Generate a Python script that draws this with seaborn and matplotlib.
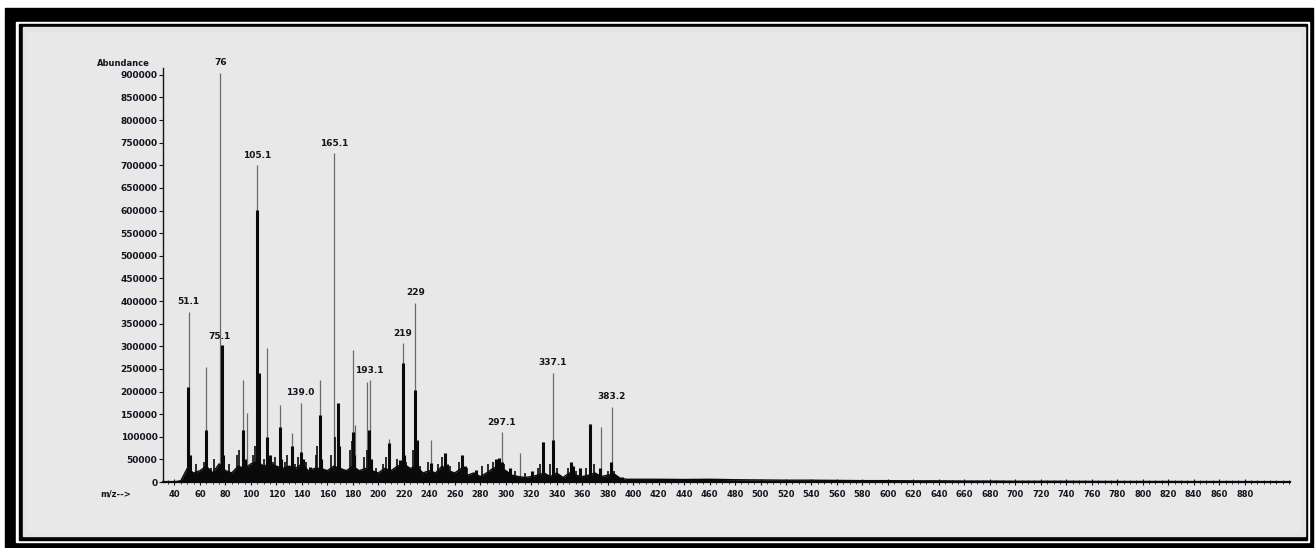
import numpy as np
import pandas as pd
import matplotlib
matplotlib.use('Agg')
import matplotlib.pyplot as plt
import seaborn as sns
from matplotlib.patches import Rectangle
from matplotlib.ticker import MultipleLocator, FixedLocator

# --- data ---
# tall thin (profile) peaks: m/z, abundance
thin_mz = [51.1, 65, 76, 94, 97, 105.1, 113, 123, 132, 139.0, 154, 165.1, 180, 182,
           191, 193.1, 208, 219, 229, 241, 297.1, 311, 329, 337.1, 366, 375, 383.2]
thin_ab = [376000, 254000, 905000, 225000, 152000, 700000, 296000, 170000, 108000,
           175000, 225000, 727000, 292000, 126000, 220000, 225000, 95000, 307000,
           396000, 93000, 110000, 64000, 88000, 241000, 128000, 122000, 166000]

# dark (dense) peaks
dark_mz = [51, 52, 65, 77, 78, 94, 95, 105, 106, 113, 115, 123, 124, 132, 139, 141,
           146, 154, 155, 168, 169, 180, 181, 193, 194, 208, 217, 219, 220, 229, 230,
           241, 252, 254, 266, 268, 277, 292, 295, 297, 303, 321, 329, 337, 351, 353,
           358, 366, 374, 383, 391]
dark_ab = [210000, 60000, 115000, 303000, 60000, 115000, 50000, 601000, 241000,
           100000, 60000, 122000, 50000, 80000, 66000, 50000, 33000, 148000, 50000,
           175000, 80000, 110000, 60000, 115000, 50000, 86000, 49000, 263000, 60000,
           203000, 93000, 42000, 64000, 40000, 60000, 35000, 27000, 50000, 53000,
           45000, 30000, 25000, 88000, 93000, 44000, 35000, 30000, 128000, 30000,
           44000, 10000]

# small spikes in the dense forest near the baseline
spike_mz = [57, 63, 69, 71, 83, 89, 91, 102, 103, 110, 117, 119, 127, 128, 135, 137,
            143, 151, 152, 163, 166, 178, 179, 189, 191, 198, 204, 206, 215, 222, 227,
            233, 239, 247, 250, 256, 263, 270, 281, 286, 290, 299, 307, 315, 325, 327,
            335, 340, 349, 355, 363, 369, 380, 385]
spike_ab = [40000, 45000, 30000, 50000, 40000, 60000, 70000, 60000, 80000, 50000,
            45000, 55000, 45000, 60000, 40000, 55000, 45000, 60000, 80000, 60000,
            100000, 70000, 90000, 55000, 70000, 30000, 40000, 55000, 50000, 45000,
            70000, 35000, 45000, 40000, 55000, 35000, 45000, 30000, 35000, 40000,
            45000, 40000, 25000, 20000, 30000, 40000, 40000, 30000, 30000, 25000,
            30000, 40000, 25000, 25000]

# baseline noise envelope
noise_mz = [40, 45, 50, 55, 60, 65, 70, 75, 80, 85, 90, 95, 100, 105, 110, 115, 120,
            125, 130, 135, 140, 145, 150, 155, 160, 165, 170, 175, 180, 185, 190, 195,
            200, 205, 210, 215, 220, 225, 230, 235, 240, 245, 250, 255, 260, 265, 270,
            275, 280, 285, 290, 295, 300, 305, 310, 315, 320, 325, 330, 335, 340, 345,
            350, 355, 360, 365, 370, 375, 380, 385, 390, 395, 400, 420, 440, 460, 480,
            500, 520, 540, 560, 580, 600, 620, 640, 660, 680, 700, 720, 740, 760, 780,
            800, 820, 840, 860, 880, 900]
noise_ab = [0, 3000, 30000, 20000, 25000, 35000, 20000, 40000, 25000, 20000, 35000,
            30000, 40000, 45000, 35000, 40000, 35000, 30000, 35000, 30000, 40000, 25000,
            30000, 30000, 25000, 35000, 30000, 25000, 35000, 25000, 30000, 25000, 20000,
            30000, 25000, 35000, 40000, 30000, 35000, 20000, 25000, 20000, 35000, 25000,
            20000, 30000, 15000, 20000, 12000, 20000, 30000, 35000, 25000, 15000, 12000,
            10000, 12000, 15000, 20000, 12000, 20000, 10000, 20000, 15000, 12000, 15000,
            20000, 12000, 15000, 18000, 8000, 6000, 6000, 6000, 5500, 6000, 5000, 4500,
            4000, 4000, 3500, 3000, 3000, 2500, 2500, 2000, 2000, 1500, 1500, 1500, 1200,
            1000, 1000, 1000, 800, 800, 800, 600]

label_txt = ['51.1', '75.1', '76', '105.1', '139.0', '165.1', '193.1', '219', '229',
             '297.1', '337.1', '383.2']
label_mz = [51.1, 75.1, 76, 105.1, 139.0, 165.1, 193.1, 219, 229, 297.1, 337.1, 383.2]
label_ab = [376000, 300000, 905000, 700000, 175000, 727000, 225000, 307000, 396000,
            110000, 241000, 166000]

x_ticks = list(range(40, 881, 20))
y_ticks = list(range(0, 900001, 50000))

noise = pd.DataFrame({'mz': noise_mz, 'ab': noise_ab})

sns.set_theme(style='white')
plt.rcParams['font.family'] = ['DejaVu Sans']

W, H = 1315, 548
fig = plt.figure(figsize=(W / 100, H / 100), dpi=100, facecolor='white')


def frame_rect(x0, y0, x1, y1, color, z):
    fig.patches.append(Rectangle((x0 / W, 1 - y1 / H), (x1 - x0) / W, (y1 - y0) / H,
                                 transform=fig.transFigure, color=color, zorder=z))


# scanned border
frame_rect(5, 8, 1313, 548, 'black', -10)
frame_rect(16, 22, 1309, 542, 'white', -9)
frame_rect(19, 24, 1307, 540, 'black', -8)
frame_rect(23, 27, 1305, 536, '#e4e4e4', -7)
frame_rect(28, 32, 1300, 531, '#e8e8e8', -6)

ax = fig.add_axes([163 / W, 1 - 482 / H, (1290 - 163) / W, (482 - 68) / H])
ax.set_facecolor('none')
ax.set_zorder(1)

ink = '#141420'
ax.vlines(thin_mz, 0, thin_ab, color='#6a6a6a', lw=0.9, zorder=2)
ax.vlines(spike_mz, 0, spike_ab, color='#0a0a0a', lw=1.2, zorder=3)
ax.vlines(dark_mz, 0, dark_ab, color='#0a0a0a', lw=2.2, zorder=3)
ax.fill_between(noise['mz'], 0, noise['ab'], color='#0a0a0a', lw=0, zorder=3)
sns.lineplot(data=noise, x='mz', y='ab', color='#0a0a0a', lw=1.0, ax=ax, zorder=3)

for t, m, a in zip(label_txt, label_mz, label_ab):
    ax.annotate(t, (m, a), xytext=(0, 4), textcoords='offset points', ha='center',
                va='bottom', fontsize=6.5, fontweight='bold', color=ink)

ax.set_xlim(31, 915.6)
ax.set_ylim(0, 915000)
ax.xaxis.set_major_locator(FixedLocator(x_ticks))
ax.xaxis.set_minor_locator(MultipleLocator(5))
ax.yaxis.set_major_locator(FixedLocator(y_ticks))
ax.set_xticklabels([str(v) for v in x_ticks])
ax.set_yticklabels([str(v) for v in y_ticks])
ax.tick_params(axis='x', which='major', direction='inout', length=4, width=0.8,
               labelsize=6, pad=4, colors=ink, bottom=True)
ax.tick_params(axis='x', which='minor', direction='inout', length=2.5, width=0.6,
               bottom=True, color=ink)
ax.tick_params(axis='y', which='major', direction='out', length=3, width=0.8,
               labelsize=6.5, pad=1, colors=ink, left=True)
for lab in ax.get_xticklabels() + ax.get_yticklabels():
    lab.set_fontweight('bold')
ax.set_xlabel('')
ax.set_ylabel('')
sns.despine(ax=ax)
ax.spines['left'].set_color(ink)
ax.spines['left'].set_linewidth(1.0)
ax.spines['bottom'].set_color('#0a0a0a')
ax.spines['bottom'].set_linewidth(1.6)

fig.text(150 / W, 1 - 63 / H, 'Abundance', ha='right', va='center', fontsize=6,
         fontweight='bold', color=ink)
fig.text(100 / W, 1 - 494 / H, 'm/z-->', ha='left', va='center', fontsize=6,
         fontweight='bold', color=ink)

fig.savefig('out.png', dpi=100, facecolor='white')
